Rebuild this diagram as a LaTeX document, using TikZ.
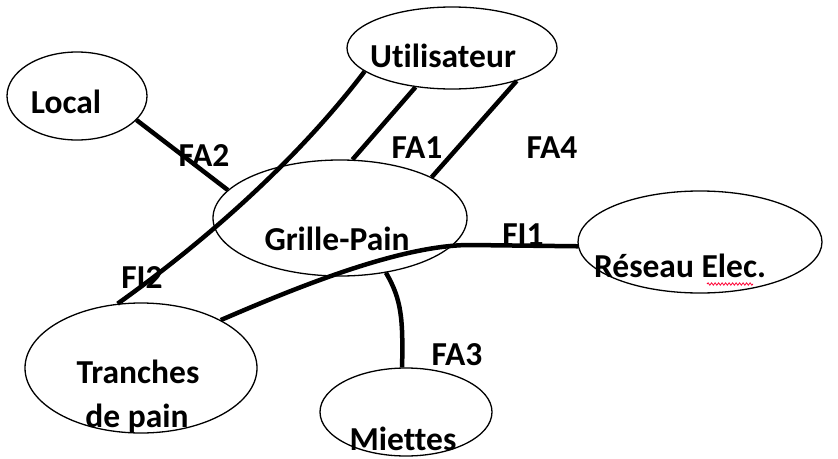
\documentclass[tikz,border=0pt]{standalone}
\usepackage{fontspec}
\setmainfont{Carlito}[Ligatures=NoCommon]
\usetikzlibrary{shapes.geometric,decorations.pathmorphing}
\begin{document}
\begin{tikzpicture}[x=1pt,y=-1pt,
  ell/.style={draw,ellipse,line width=1.3pt,inner sep=0pt},
  lnk/.style={line width=4.5pt},
  txt/.style={anchor=base,inner sep=0pt,font=\fontsize{33.5}{40}\selectfont\bfseries}]
\useasboundingbox (0,0) rectangle (838,458);
% ellipses
\node[ell,minimum width=140pt,minimum height=88pt] (loc) at (77,96) {};
\node[ell,minimum width=210pt,minimum height=82pt] (usr) at (452,48) {};
\node[ell,minimum width=254pt,minimum height=116pt] (gp) at (340,218) {};
\node[ell,minimum width=244pt,minimum height=102pt] (res) at (700,242) {};
\node[ell,minimum width=232pt,minimum height=130pt] (tra) at (141,368) {};
\node[ell,minimum width=172pt,minimum height=88pt] (mie) at (406,412) {};
% connectors
\draw[lnk] (loc.-22) -- (gp.166);
\draw[lnk] (usr.195) .. controls (298,159) and (207,240) .. (tra.110);
\draw[lnk] (usr.227) -- (gp.78);
\draw[lnk] (usr.-27) -- (gp.24);
\coordinate (fib) at (470,245);
\draw[lnk] (res.182) -- (fib) .. controls (400,245) and (295,288) .. (tra.31);
\draw[lnk] (gp.-50) .. controls (402,300) and (403,320) .. (mie.95);
% texts
\node[txt] (tloc) at (66,113) {Local};
\node[txt] (tusr) at (443,67) {Utilisateur};
\node[txt] (tgp) at (337,250) {Grille-Pain};
\node[txt] (tres) at (680,277) {Réseau Elec.};
\node[txt] (ttr1) at (138,383) {Tranches};
\node[txt] (ttr2) at (137,427) {de pain};
\node[txt] (tmie) at (403,450) {Miettes};
% labels
\node[txt] (fa2) at (204,166) {FA2};
\node[txt] (fa1) at (417,158) {FA1};
\node[txt] (fa4) at (552,158) {FA4};
\node[txt] (fi1) at (523,245) {FI1};
\node[txt] (fi2) at (142,288) {FI2};
\node[txt] (fa3) at (457,365) {FA3};
% spell-check squiggle
\coordinate (sq1) at (707,284);
\coordinate (sq2) at (753,284);
\draw[red!80!magenta,line width=0.8pt,decorate,decoration={snake,amplitude=1.2pt,segment length=3.5pt}] (sq1) -- (sq2);
\end{tikzpicture}
\end{document}
